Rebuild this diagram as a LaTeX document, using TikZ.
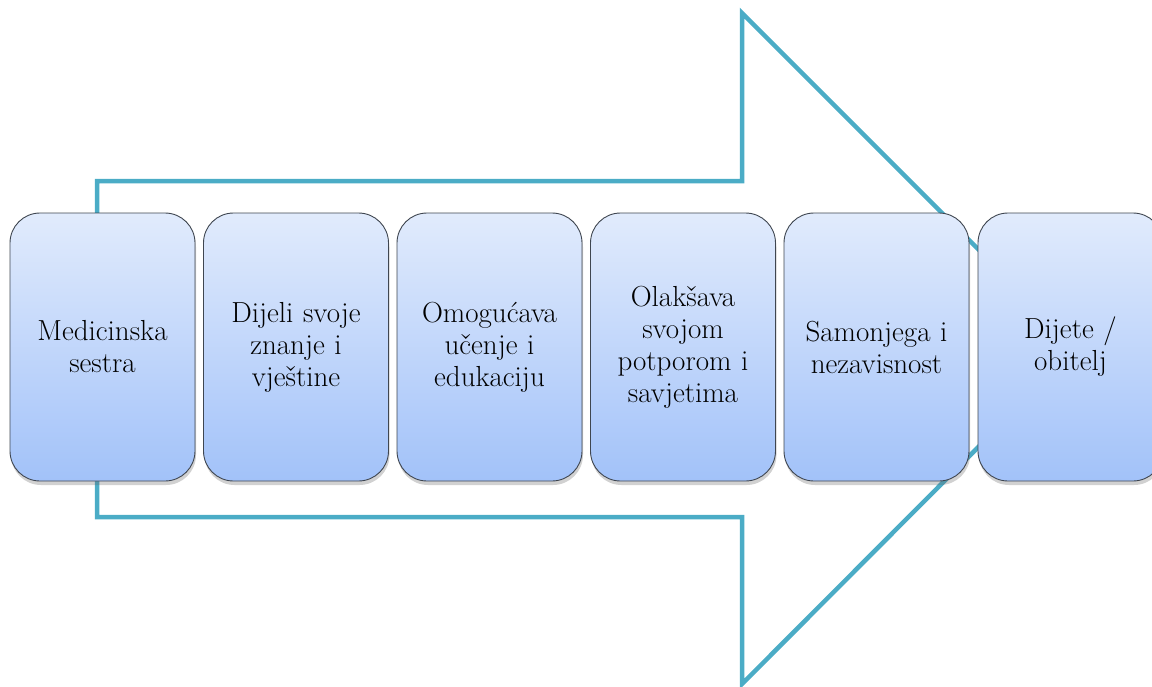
\documentclass[tikz,border=0pt]{standalone}
\usetikzlibrary{shadows}
\definecolor{arrowteal}{HTML}{4BACC6}
\definecolor{boxtop}{HTML}{E1EBFC}
\definecolor{boxbot}{HTML}{A2C2F9}
\definecolor{boxline}{HTML}{3F4650}
\begin{document}
\begin{tikzpicture}[x=1pt,y=-1pt,
  stepcard/.style={draw=boxline, line width=0.9pt, rounded corners=30pt,
    top color=boxtop, bottom color=boxbot, minimum width=185pt, minimum height=268pt,
    text width=178pt, align=center, inner sep=0pt,
    font=\rmfamily\fontsize{29}{32}\selectfont,
    drop shadow={shadow xshift=1pt, shadow yshift=-4pt, opacity=0.3, fill=black!60}},
  bigarrow/.style={draw=arrowteal, line width=4.5pt, line join=miter}]
\useasboundingbox (0,0) rectangle (1152,686);
\coordinate (a1) at (97,181);
\coordinate (a2) at (742,181);
\coordinate (a3) at (742,13);
\coordinate (tip) at (1077,348);
\coordinate (a5) at (742,684);
\coordinate (a6) at (742,517);
\coordinate (a7) at (97,517);
\draw[bigarrow] (a1) -- (a2) -- (a3) -- (tip) -- (a5) -- (a6) -- (a7) -- cycle;
\node[stepcard] (n1) at (102.5,347) {Medicinska\\sestra};
\node[stepcard] (n2) at (296,347) {Dijeli svoje\\znanje i\\vještine};
\node[stepcard] (n3) at (489.5,347) {Omogućava\\učenje i\\edukaciju};
\node[stepcard] (n4) at (683,347) {Olakšava\\svojom\\potporom i\\savjetima};
\node[stepcard] (n5) at (876.5,347) {Samonjega i\\nezavisnost};
\node[stepcard] (n6) at (1070.5,347) {Dijete /\\obitelj};
\end{tikzpicture}
\end{document}
